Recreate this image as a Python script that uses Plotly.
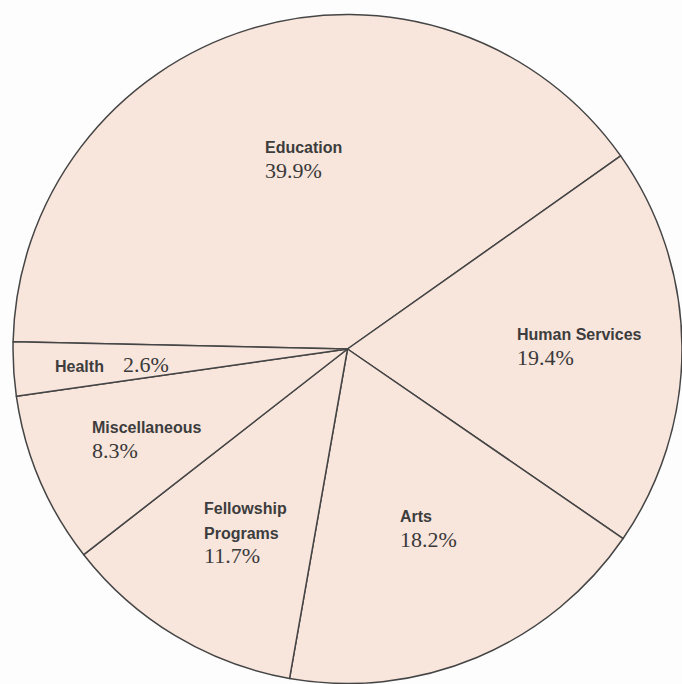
import math
import plotly.graph_objects as go

# ---- data ----
labels = ["Education", "Human Services", "Arts", "Fellowship Programs", "Miscellaneous", "Health"]
display_names = ["Education", "Human Services", "Arts", "Fellowship<br>Programs", "Miscellaneous", "Health"]
values = [39.9, 19.4, 18.2, 11.7, 8.3, 2.6]
pct_text = ["39.9%", "19.4%", "18.2%", "11.7%", "8.3%", "2.6%"]

# ---- style / layout ----
W, H = 682, 684
START_MATH_DEG = 178.75          # boundary Health|Education, math convention
# label anchor (left edge, vertical middle) relative to each slice's mid-angle
label_radius_frac = [0.616, 0.501, 0.562, 0.703, 0.817, 0.882]
label_angle_offset = [7.2, 0.0, -7.1, -7.2, -3.3, -0.5]
FILL = "#f8e5dc"
LINE = "#454545"
NAME_FONT = "Liberation Sans Narrow, Arial Narrow, Liberation Sans, Arial, sans-serif"
PCT_FONT = "Liberation Serif, Times New Roman, serif"
NAME_COLOR = "#3d3d3d"
PCT_COLOR = "#3a3a3a"

dom_left, dom_top = 13, 14
dom_x = [dom_left / W, 1.0]
dom_y = [0.0, 1 - dom_top / H]
dw = W * (dom_x[1] - dom_x[0])
dh = H * (dom_y[1] - dom_y[0])
R = min(dw, dh) / 2
cx = dom_left + dw / 2
cy = dom_top + dh / 2

fig = go.Figure(go.Pie(
    labels=labels,
    values=values,
    sort=False,
    direction="clockwise",
    rotation=90 - START_MATH_DEG,
    marker=dict(colors=[FILL] * len(values), line=dict(color=LINE, width=1.5)),
    textinfo="none",
    hoverinfo="label+percent",
    showlegend=False,
    domain=dict(x=dom_x, y=dom_y),
))

total = sum(values)
ang = START_MATH_DEG
annotations = []
for i, v in enumerate(values):
    span = v / total * 360
    mid = math.radians(ang - span / 2 + label_angle_offset[i])
    ang -= span
    rr = R * label_radius_frac[i]
    px = cx + rr * math.cos(mid)
    py = cy - rr * math.sin(mid)
    name = (f"<span style='font-family:{NAME_FONT};font-weight:bold;"
            f"font-size:16px;fill:{NAME_COLOR}'>{display_names[i]}</span>")
    pct = f"<span style='font-family:{PCT_FONT};font-size:22px'>{pct_text[i]}</span>"
    if labels[i] == "Health":
        txt = name + "\u00a0\u00a0\u00a0\u00a0" + pct
    else:
        txt = name + "<br>" + pct
    annotations.append(dict(
        x=px / W, y=1 - py / H, xref="paper", yref="paper",
        text=txt, showarrow=False, xanchor="left", yanchor="middle",
        align="left", font=dict(size=19, color=PCT_COLOR, family=PCT_FONT),
    ))

fig.update_layout(
    width=W, height=H,
    margin=dict(l=0, r=0, t=0, b=0),
    paper_bgcolor="#fdfdfd",
    plot_bgcolor="#fdfdfd",
    annotations=annotations,
)

fig.write_html("out.html")
